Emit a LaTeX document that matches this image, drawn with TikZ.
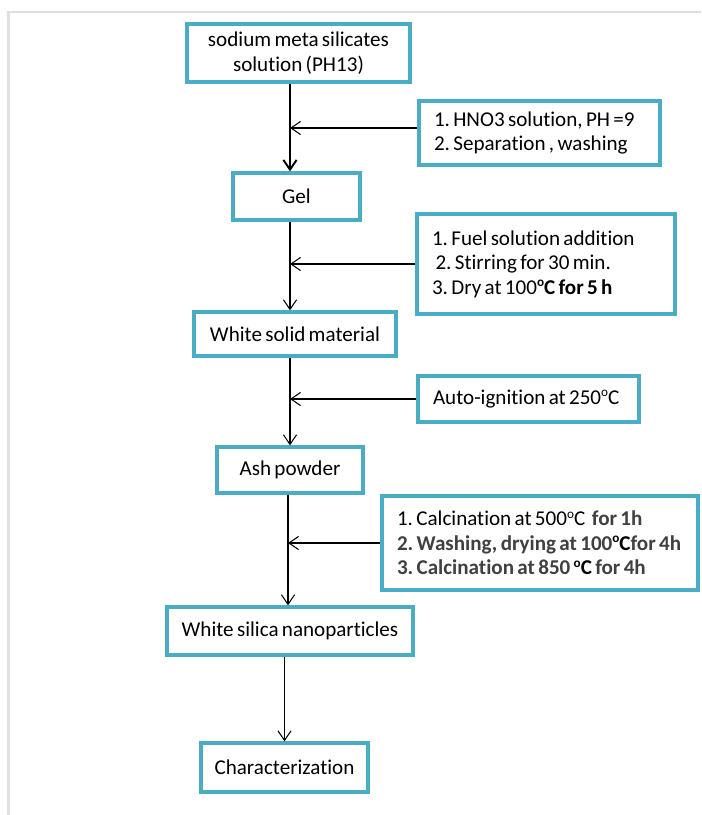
\documentclass[tikz,border=0pt]{standalone}
\usepackage{fontspec}
\setmainfont{Carlito}[WordSpace=0.7, Ligatures=NoCommon]
\usepackage{tikz}
\usetikzlibrary{arrows.meta}
\frenchspacing

\definecolor{boxblue}{HTML}{4BACC6}
\definecolor{stepgray}{HTML}{404040}
\newcommand{\degc}{\raisebox{0.75ex}{\fontsize{7.5}{8}\selectfont o}C}
\newcommand{\gb}[1]{{\color{stepgray}\textbf{#1}}}

\begin{document}
\begin{tikzpicture}[>={Straight Barb[length=5.5pt,width=7.5pt]}, line width=0.6pt,
    flowbox/.style={draw=boxblue, line width=1.9pt, fill=white, align=center,
      font=\fontsize{12}{14}\selectfont, inner sep=0pt},
    sidebox/.style={flowbox, align=flush left, inner xsep=0.3cm}]
  \useasboundingbox (0,0) rectangle (14.02,-16.3);

  % page frame
  \draw[gray!25, line width=1.2pt] (0.17,-16.3) -- (0.17,-0.24) -- (14.02,-0.24);

  % main column
  \node[flowbox, minimum width=4.46cm, minimum height=1.16cm] (sodium) at (5.97,-1.06)
    {sodium meta silicates\\ solution (PH13)};
  \node[flowbox, minimum width=2.54cm, minimum height=0.94cm] (gel) at (5.93,-3.93) {Gel};
  \node[flowbox, minimum width=4.04cm, minimum height=0.88cm] (solid) at (5.90,-6.68) {White solid material};
  \node[flowbox, minimum width=2.92cm, minimum height=0.92cm] (ash) at (5.80,-9.40) {Ash powder};
  \node[flowbox, minimum width=4.92cm, minimum height=0.96cm] (silica) at (5.80,-12.62) {White silica nanoparticles};
  \node[flowbox, minimum width=3.34cm, minimum height=0.98cm] (charact) at (5.69,-15.35) {Characterization};

  % treatment steps
  \node[sidebox, text width=4.22cm, minimum height=1.28cm] (hno) at (10.79,-2.66)
    {1. HNO3 solution, PH =9\\2. Separation , washing};
  \node[sidebox, text width=4.56cm, minimum height=2.0cm] (fuel) at (10.92,-5.28)
    {1. Fuel solution addition\\\hspace*{2pt}2. Stirring for 30 min.\\3. Dry at 100\textbf{\degc{} for 5 h}};
  \node[sidebox, text width=3.82cm, minimum height=0.92cm] (ignite) at (10.57,-7.98)
    {Auto-ignition at 250\degc};
  \node[sidebox, text width=5.72cm, minimum height=1.88cm] (calc) at (10.80,-10.86)
    {1. Calcination at 500\degc\ \ \gb{for 1h}\\
     \gb{2. Washing, drying at 100}\textbf{\degc}\gb{for 4h}\\
     \gb{3. Calcination at 850 }\textbf{\degc}\gb{ for 4h}};

  % flow arrows
  \coordinate (spine) at (5.8,0);
  \draw[->, line width=1.1pt] (sodium.south -| spine) -- (gel.north -| spine);
  \draw[->] (gel.south -| spine) -- (solid.north -| spine);
  \draw[->] (solid.south -| spine) -- (ash.north -| spine);
  \draw[->] ([xshift=-0.04cm]ash.south -| spine) -- ([xshift=-0.04cm]silica.north -| spine);
  \draw[->] (silica.south -| charact.north) -- (charact.north);

  % side inputs
  \draw[->] ([yshift=0.1cm]hno.west) -- ([yshift=0.1cm]hno.west -| spine);
  \draw[->] (fuel.west) -- (fuel.west -| spine);
  \draw[->] (ignite.west) -- (ignite.west -| spine);
  \draw[->] (calc.west) -- ([xshift=-0.04cm]calc.west -| spine);

\end{tikzpicture}
\end{document}
